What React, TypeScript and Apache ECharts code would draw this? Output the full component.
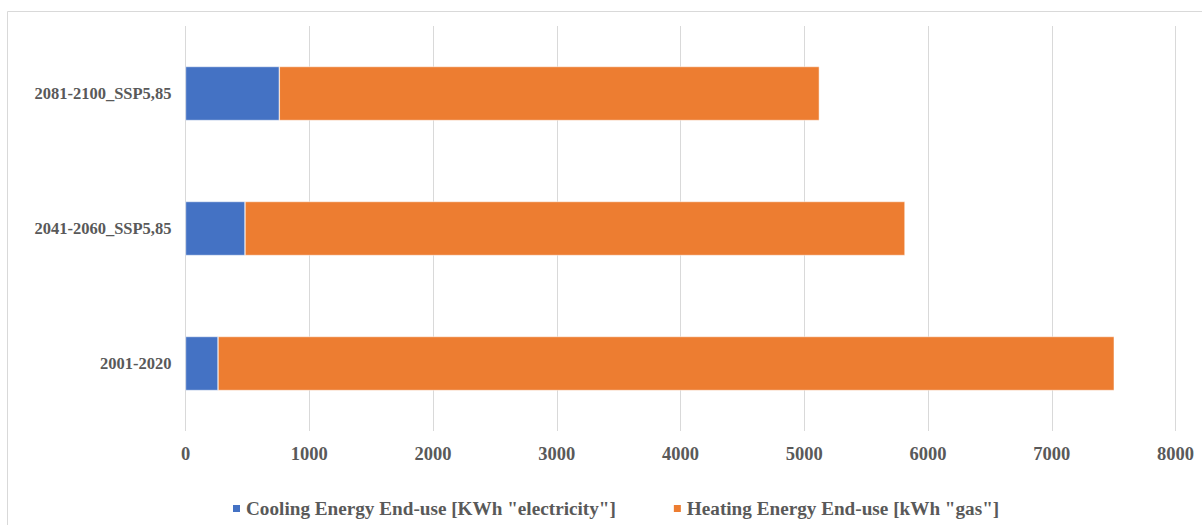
import React, { useEffect, useRef } from "react";
import * as echarts from "echarts";

const categories = ["2001-2020", "2041-2060_SSP5,85", "2081-2100_SSP5,85"];
const coolingValues = [263, 481, 758];
const heatingValues = [7242, 5333, 4364];
const seriesNames = [
  'Cooling Energy End-use [KWh "electricity"]',
  'Heating Energy End-use [kWh "gas"]',
];
const xMin = 0;
const xMax = 8000;
const xInterval = 1000;

const FONT = "'Liberation Serif', 'Times New Roman', serif";
const TEXT = "#595959";

export default function App() {
  const ref = useRef<HTMLDivElement>(null);
  useEffect(() => {
    if (!ref.current) return;
    const chart = echarts.init(ref.current, null, { renderer: "svg" });
    chart.setOption({
      animation: false,
      backgroundColor: "#ffffff",
      graphic: [
        {
          type: "rect",
          shape: { x: 7.5, y: 11.5, width: 1210, height: 530 },
          style: { fill: "none", stroke: "#d9d9d9", lineWidth: 1 },
          silent: true,
        },
      ],
      grid: { left: 185.5, right: 26.5, top: 26, bottom: 94, containLabel: false },
      legend: {
        left: 226,
        top: 494,
        itemWidth: 9,
        itemHeight: 9,
        itemGap: 56,
        icon: "rect",
        textStyle: { fontFamily: FONT, fontSize: 19.2, fontWeight: "bold", color: TEXT },
        data: seriesNames,
      },
      xAxis: {
        type: "value",
        min: xMin,
        max: xMax,
        interval: xInterval,
        axisLine: { show: false },
        axisTick: { show: false },
        splitLine: { lineStyle: { color: "#d9d9d9", width: 1 } },
        axisLabel: {
          fontFamily: FONT,
          fontSize: 18.5,
          fontWeight: "bold",
          color: TEXT,
          margin: 13,
          formatter: (v: number) => String(v),
        },
      },
      yAxis: {
        type: "category",
        data: categories,
        axisLine: { show: false },
        axisTick: { show: false },
        axisLabel: {
          fontFamily: FONT,
          fontSize: 16.5,
          fontWeight: "bold",
          color: TEXT,
          margin: 14,
        },
      },
      series: [
        {
          name: seriesNames[0],
          type: "bar",
          stack: "total",
          data: coolingValues,
          barCategoryGap: "60%",
          itemStyle: { color: "#4472C4", borderColor: "#ffffff", borderWidth: 0.5 },
        },
        {
          name: seriesNames[1],
          type: "bar",
          stack: "total",
          data: heatingValues,
          barCategoryGap: "60%",
          itemStyle: { color: "#ED7D31", borderColor: "#ffffff", borderWidth: 0.5 },
        },
      ],
    });
    return () => chart.dispose();
  }, []);
  return (
    <div
      ref={ref}
      style={{ position: "absolute", left: 0, top: 0, width: 1202, height: 525 }}
    />
  );
}
